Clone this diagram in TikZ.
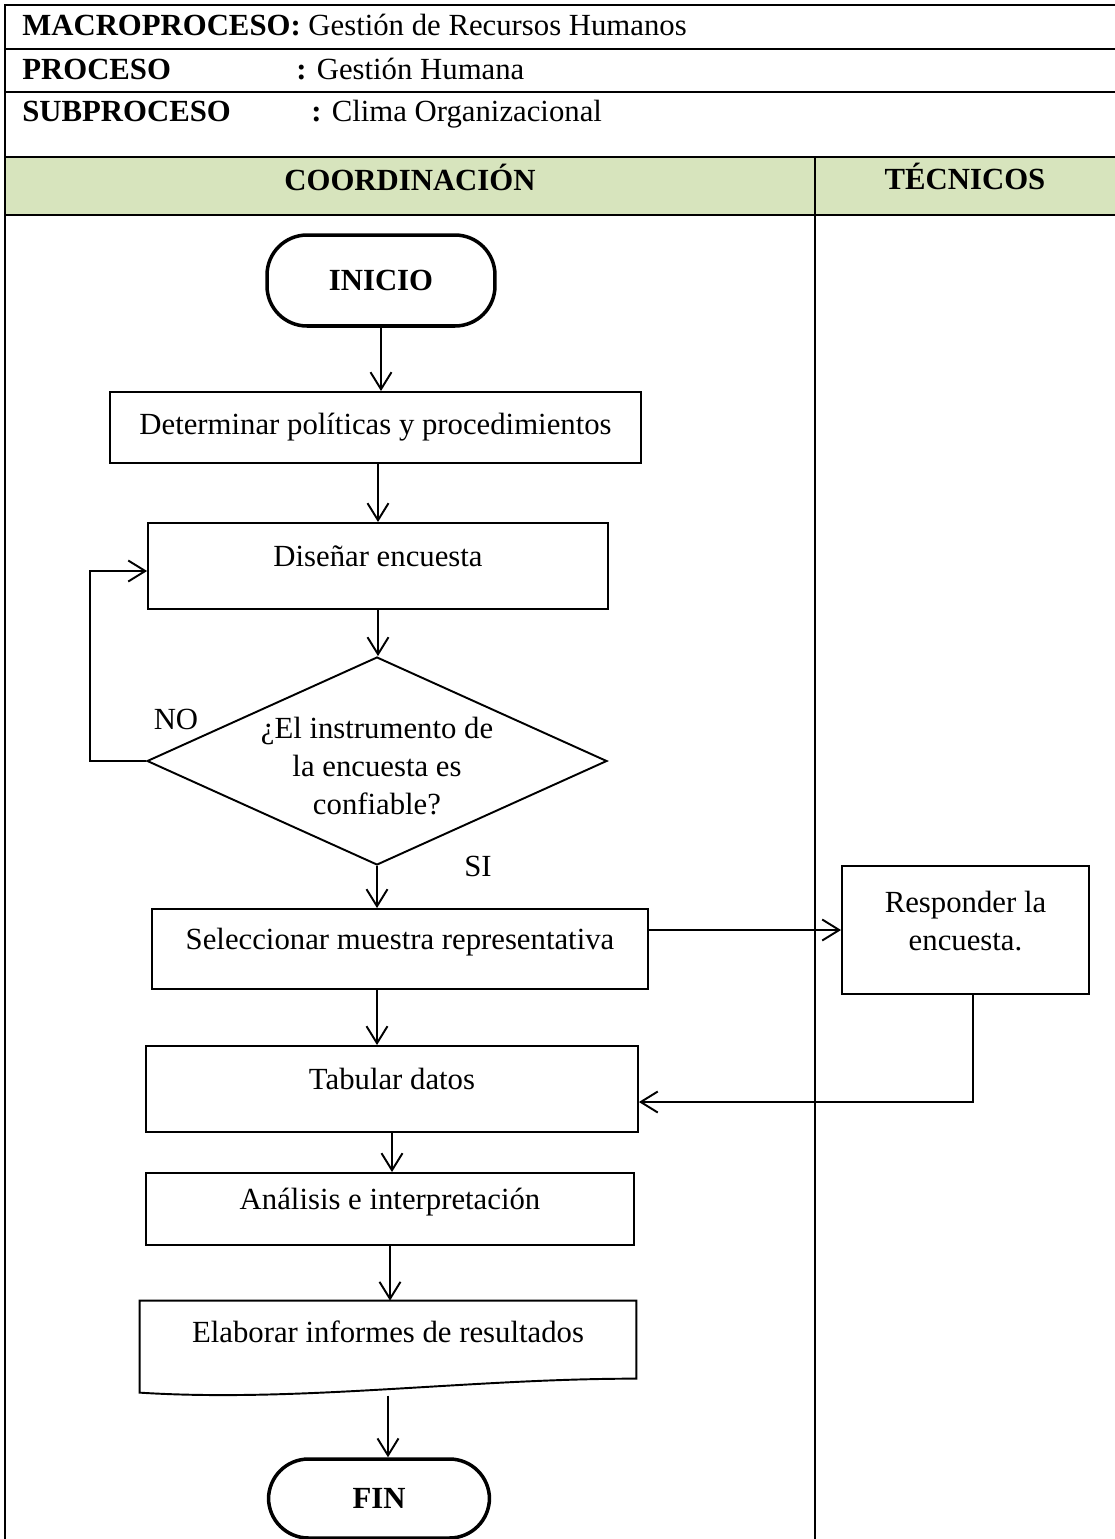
\documentclass[tikz,border=0pt]{standalone}
\usepackage{fontspec}
\setmainfont{Liberation Serif}
\usetikzlibrary{shapes.geometric,arrows.meta}
\definecolor{verdecab}{HTML}{D7E4BD}
\tikzset{
  marco/.style={line width=1.1pt},
  caja/.style={draw, line width=1.1pt, inner sep=2pt, text height=0.36cm, text depth=0.36cm},
  terminal/.style={draw, line width=2pt, rounded corners=0.8cm, font=\fontsize{17.5}{21.5}\selectfont\bfseries},
  flecha/.style={line width=1.1pt, -{Straight Barb[length=0.34cm,width=0.42cm]}},
  cab/.style={anchor=base west, inner sep=0pt}
}
\begin{document}
\begin{tikzpicture}[x=0.02cm, y=-0.02cm, font=\fontsize{17.5}{21.5}\selectfont]
\useasboundingbox (0,0) rectangle (1115,1539);
% tabla de cabecera
\fill[verdecab] (5,157) rectangle (1120,215);
\draw[marco] (5,1545) -- (5,5) -- (1120,5);
\foreach \y in {49,92,157,215} \draw[marco] (5,\y) -- (1120,\y);
\draw[marco] (815,157) -- (815,1545);
\node[cab] (macro) at (22,35) {\textbf{MACROPROCESO:} Gestión de Recursos Humanos};
\node[cab] (proc) at (22,79) {\textbf{PROCESO}};
\node[cab] (procval) at (296,79) {\textbf{:} Gestión Humana};
\node[cab] (sub) at (22,121) {\textbf{SUBPROCESO}};
\node[cab] (subval) at (311,121) {\textbf{:} Clima Organizacional};
\node[anchor=base, inner sep=0pt] (coord) at (410,190) {\textbf{COORDINACIÓN}};
\node[anchor=base, inner sep=0pt] (tecn) at (965,189) {\textbf{TÉCNICOS}};

% diagrama
\node[terminal, minimum width=4.56cm, minimum height=1.82cm] (inicio) at (381,280.5) {INICIO};
\node[draw, line width=1.1pt, minimum width=10.62cm, minimum height=1.42cm] (determ) at (375.5,427.5) {Determinar políticas y procedimientos};
\node[caja, minimum width=9.2cm, minimum height=1.72cm] (disenar) at (378,566) {Diseñar encuesta};
\node[diamond, draw, line width=1.1pt, inner sep=0pt, minimum width=9.2cm, minimum height=4.16cm] (decis) at (377,761) {};
\node[align=center] (pregunta) at (377,766) {¿El instrumento de\\la encuesta es\\confiable?};
\node (no) at (176,719) {NO};
\node (si) at (478,866) {SI};
\node[caja, minimum width=9.92cm, minimum height=1.6cm] (selec) at (400,949) {Seleccionar muestra representativa};
\node[draw, line width=1.1pt, minimum width=4.94cm, minimum height=2.56cm] (resp) at (965.5,930)
  {\raisebox{0.12cm}[\height][\depth]{\begin{tabular}{@{}c@{}}Responder la\\encuesta.\end{tabular}}};
\node[caja, minimum width=9.84cm, minimum height=1.72cm] (tabular) at (392,1089) {Tabular datos};
\node[caja, minimum width=9.76cm, minimum height=1.44cm] (analisis) at (390,1209) {Análisis e interpretación};
\node[inner sep=2pt, text height=0.36cm, text depth=0.36cm, minimum width=9.92cm, minimum height=1.64cm] (elab) at (388,1342) {Elaborar informes de resultados};
\draw[marco] (elab.north west) -- (elab.north east) -- ([yshift=-1.56cm]elab.north east)
  .. controls +(-3.4cm,0) and +(3.2cm,-0.2cm) .. ([yshift=-1.84cm]elab.north west) -- cycle;
\node[terminal, minimum width=4.42cm, minimum height=1.58cm] (fin) at (379,1498.5) {FIN};

\draw[flecha] (inicio.south) -- (inicio.south |- determ.north);
\draw[flecha] (disenar.north |- determ.south) -- (disenar.north);
\draw[flecha] (disenar.south) -- (disenar.south |- decis.north);
\draw[flecha] (decis.west) -- ++(-56,0) |- ([yshift=-0.1cm]disenar.west);
\draw[flecha] (decis.south) -- (decis.south |- selec.north);
\draw[flecha] (resp.west -| selec.east) -- (resp.west);
\draw[flecha] ([xshift=0.15cm]resp.south) |- ([yshift=-0.26cm]tabular.east);
\draw[flecha] ([xshift=-0.3cm]tabular.north |- selec.south) -- ([xshift=-0.3cm]tabular.north);
\draw[flecha] (tabular.south) -- (tabular.south |- analisis.north);
\draw[flecha] (analisis.south) -- (analisis.south |- elab.north);
\draw[flecha] ([yshift=-1.9cm]elab.north) -- (elab.north |- fin.north);
\end{tikzpicture}
\end{document}
